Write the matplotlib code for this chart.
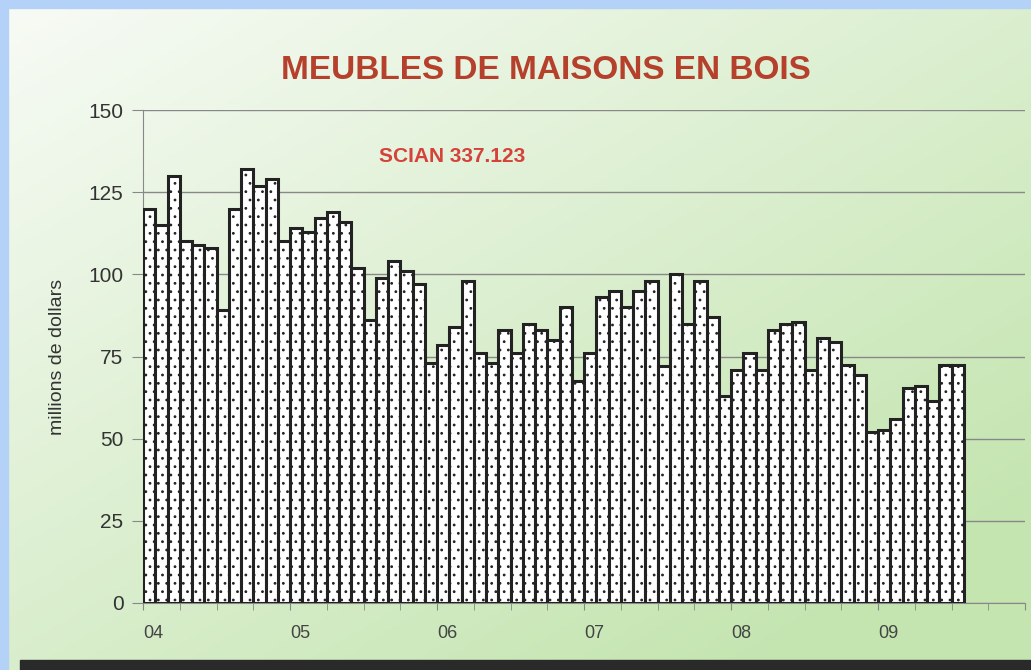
import numpy as np
import matplotlib
matplotlib.use("Agg")
import matplotlib.pyplot as plt
from matplotlib.patches import Rectangle

# monthly values, Jan 2004 - Jul 2009 (millions de dollars)
v2004 = [120, 115, 130, 110, 109, 108, 89, 120, 132, 127, 129, 110]
v2005 = [114, 113, 117, 119, 116, 102, 86, 99, 104, 101, 97, 73]
v2006 = [78.5, 84, 98, 76, 73, 83, 76, 85, 83, 80, 90, 67.5]
v2007 = [76, 93, 95, 90, 95, 98, 72, 100, 85, 98, 87, 63]
v2008 = [71, 76, 71, 83, 85, 85.5, 71, 80.5, 79.5, 72.5, 69.5, 52]
v2009 = [52.5, 56, 65.5, 66, 61.5, 72.5, 72.5]
values = v2004 + v2005 + v2006 + v2007 + v2008 + v2009
year_labels = ["04", "05", "06", "07", "08", "09"]
y_ticks = [0, 25, 50, 75, 100, 125, 150]

plt.rcParams["font.family"] = ["Liberation Sans", "DejaVu Sans"]
plt.rcParams["hatch.color"] = "#555555"
plt.rcParams["hatch.linewidth"] = 0.8

fig = plt.figure(figsize=(10.31, 6.70), dpi=100)

# background gradient
bg = fig.add_axes([0, 0, 1, 1])
gx, gy = np.meshgrid(np.linspace(0, 1, 300), np.linspace(0, 1, 200))
t = np.clip(0.55 * gx + 0.6 * gy, 0, 1)[..., None]
c0 = np.array([248, 251, 246]) / 255
c1 = np.array([196, 229, 176]) / 255
bg.imshow(c0 * (1 - t) + c1 * t, aspect="auto", extent=[0, 1, 0, 1], origin="upper")
bg.set_axis_off()
fig.patches.append(Rectangle((0, 0), 8 / 1031, 1, transform=fig.transFigure, color="#b4d2f8", zorder=5))
fig.patches.append(Rectangle((0, 1 - 8 / 670), 1, 8 / 670, transform=fig.transFigure, color="#b4d2f8", zorder=5))
fig.patches.append(Rectangle((20 / 1031, 0), 1, 10 / 670, transform=fig.transFigure, color="#2a2a2a", zorder=5))

ax = fig.add_axes([143 / 1031, 67 / 670, 882 / 1031, 493 / 670])
ax.patch.set_alpha(0)
x = np.arange(len(values))
ax.bar(x, values, width=1, align="edge", facecolor="white", edgecolor="#222222",
       linewidth=2.2, hatch="..", zorder=3)

ax.set_xlim(0, 72)
ax.set_ylim(0, 150)
ax.set_yticks(y_ticks)
ax.set_yticklabels([str(v) for v in y_ticks], fontsize=15, color="#333333")
ax.set_xticks(np.arange(0, 73, 12))
ax.set_xticklabels(year_labels + [""], fontsize=13, color="#444444", ha="left")
ax.set_xticks(np.arange(0, 73, 3), minor=True)
ax.tick_params(axis="x", which="both", length=5, color="#888888", pad=11)
ax.tick_params(axis="y", length=8, color="#888888", pad=6)
ax.grid(axis="y", color="#888888", linewidth=1, zorder=1)
for s in ["top", "right"]:
    ax.spines[s].set_visible(False)
for s in ["left", "bottom"]:
    ax.spines[s].set_color("#888888")
ax.set_ylabel("millions de dollars", fontsize=14, color="#333333", labelpad=16)

fig.text(0.529, 0.8955, "MEUBLES DE MAISONS EN BOIS", fontweight="bold",
         fontsize=24, color="#b5402c", ha="center", va="center")
ax.text(0.350, 0.905, "SCIAN 337.123", transform=ax.transAxes, fontweight="bold",
        fontsize=15, color="#d4423a", ha="center", va="center")

fig.savefig("out.png", dpi=100)
